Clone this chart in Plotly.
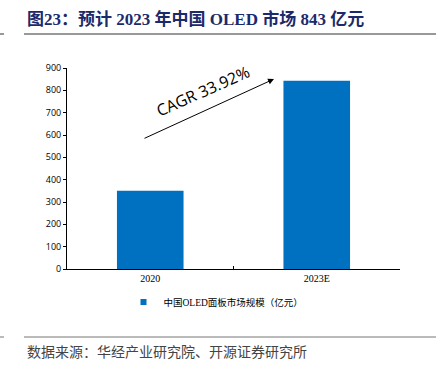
import plotly.graph_objects as go

categories = ["2020", "2023E"]
values = [350, 843]
series_name = "中国OLED面板市场规模（亿元）"
y_ticks = [0, 100, 200, 300, 400, 500, 600, 700, 800, 900]
title_text = "图23：预计 2023 年中国 OLED 市场 843 亿元"
source_text = "数据来源：华经产业研究院、开源证券研究所"
cagr_text = "CAGR 33.92%"

W, H = 439, 374
L, R, T, B = 67, 39, 68, 105
BLUE = "#0070C0"

fig = go.Figure()
fig.add_trace(go.Bar(
    x=categories, y=values, name=series_name,
    marker=dict(color=BLUE, line=dict(width=0)),
    width=0.4, showlegend=False,
))
# legend proxy (small square marker like the reference)
fig.add_trace(go.Scatter(
    x=[categories[0]], y=[None], mode="markers", name=series_name,
    marker=dict(symbol="square", size=6, color=BLUE), showlegend=True,
    hoverinfo="skip",
))

def px(x):
    return (x - L) / (W - L - R)

def py(y):
    return (H - B - y) / (H - T - B)

fig.update_layout(
    width=W, height=H,
    margin=dict(l=L, r=R, t=T, b=B),
    paper_bgcolor="white", plot_bgcolor="white",
    xaxis=dict(
        showline=True, linecolor="#000", linewidth=1,
        ticks="", showgrid=False, automargin=False,
        tickfont=dict(family="Liberation Serif, Times New Roman, serif", size=10, color="#000"),
    ),
    yaxis=dict(
        range=[0, 900], tickvals=y_ticks,
        showline=True, linecolor="#000", linewidth=1,
        ticks="outside", ticklen=3, tickcolor="#000",
        showgrid=False, zeroline=False, automargin=False,
        tickfont=dict(family="Open Sans, DejaVu Sans, sans-serif", size=9, color="#000"),
    ),
    legend=dict(
        orientation="h", x=px(216), xanchor="center", y=py(302), yanchor="middle",
        font=dict(family="Liberation Serif, Noto Sans CJK SC", size=9.5, color="#000"),
        itemwidth=30, bgcolor="rgba(0,0,0,0)",
    ),
    showlegend=True,
)

# middle category divider tick on x-axis
fig.add_shape(type="line", xref="paper", yref="paper",
              x0=0.5, x1=0.5, y0=0, y1=py(266), line=dict(color="#000", width=1))

# title
fig.add_annotation(
    text="<b>" + title_text + "</b>", xref="paper", yref="paper",
    x=px(25), y=py(19), xanchor="left", yanchor="middle", showarrow=False,
    font=dict(family="Liberation Serif, Noto Sans CJK SC", size=17, color="#1B2A6B"),
)
fig.add_shape(type="line", xref="paper", yref="paper",
              x0=px(24), x1=px(436), y0=py(34), y1=py(34),
              line=dict(color="#333", width=1))
fig.add_shape(type="line", xref="paper", yref="paper",
              x0=px(0), x1=px(4), y0=py(34), y1=py(34),
              line=dict(color="#333", width=1))

# source
fig.add_shape(type="line", xref="paper", yref="paper",
              x0=px(24), x1=px(436), y0=py(337), y1=py(337),
              line=dict(color="#777", width=1))
fig.add_shape(type="line", xref="paper", yref="paper",
              x0=px(0), x1=px(4), y0=py(337), y1=py(337),
              line=dict(color="#777", width=1))
fig.add_annotation(
    text=source_text, xref="paper", yref="paper",
    x=px(25), y=py(352), xanchor="left", yanchor="middle", showarrow=False,
    font=dict(family="Liberation Serif, Noto Sans CJK SC", size=14, color="#444"),
)

# CAGR arrow
fig.add_annotation(
    xref="paper", yref="paper", axref="pixel", ayref="pixel",
    x=px(274), y=py(79), ax=143 - 274, ay=139 - 79,
    text="", showarrow=True, arrowhead=2, arrowsize=1.2, arrowwidth=1, arrowcolor="#000",
)
fig.add_annotation(
    text=cagr_text, xref="paper", yref="paper",
    x=px(203), y=py(91), xanchor="center", yanchor="middle", showarrow=False,
    textangle=-24,
    font=dict(family="Open Sans, Lato, sans-serif", size=16, color="#000"),
)

fig.write_html("out.html", post_script="document.body.style.margin='0';",
               config={"displayModeBar": False})
